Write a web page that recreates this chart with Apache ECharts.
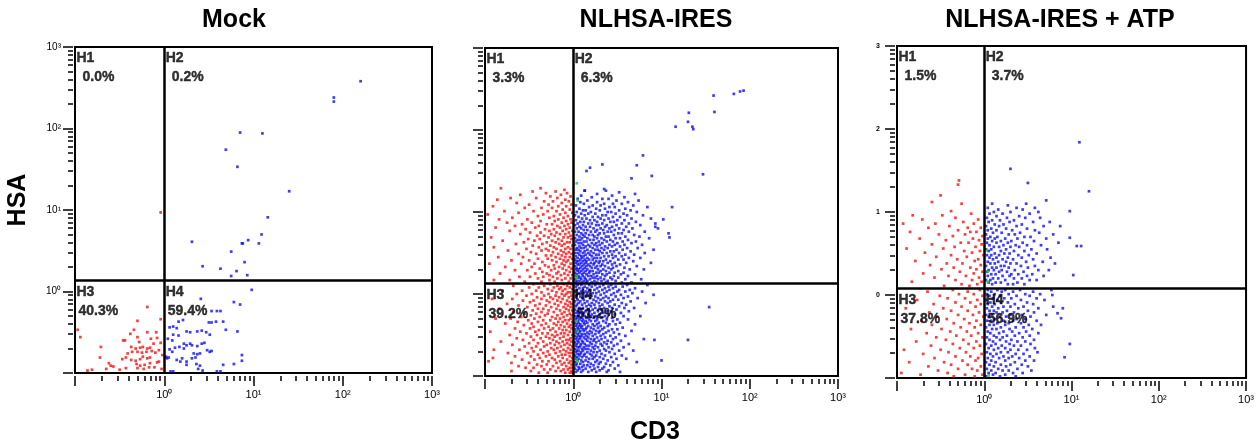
<!DOCTYPE html>
<html>
<head>
<meta charset="utf-8">
<script src="https://cdn.jsdelivr.net/npm/echarts@6/dist/echarts.min.js"></script>
<style>
html,body{margin:0;padding:0;background:#fff;}
#chart{width:1257px;height:445px;}
</style>
</head>
<body>
<div id="chart"></div>
<script>
// ---------------- DATA ----------------
const panelTitles = ['Mock', 'NLHSA-IRES', 'NLHSA-IRES + ATP'];
const xAxisTitle = 'CD3';
const yAxisTitle = 'HSA';
const quadrantNames = ['H1', 'H2', 'H3', 'H4'];
const mockPercents = ['0.0%', '0.2%', '40.3%', '59.4%'];
const iresPercents = ['3.3%', '6.3%', '39.2%', '51.2%'];
const atpPercents = ['1.5%', '3.7%', '37.8%', '56.9%'];
// quadrant gates (data units): CD3 gate, HSA gate
const gateX = [1, 1, 1];
const gateY = [1.365, 1.36, 1.21];
// axis range (data units) and log tick layout
const axisMin = 0.1;
const axisMax = 1000;
const decadeExponents = [-1, 0, 1, 2, 3];
const minorMultipliers = [2, 3, 4, 5, 6, 7, 8, 9];

// Mock: dot readings in log10 units [log10(CD3), log10(HSA)]
const mockRed = [
  [-0.04,0.97],
  [-0.19,-0.19],[-0.30,-0.36],[-0.04,-0.34],[-0.97,-0.47],[-0.94,-0.56],[-0.46,-0.60],[-0.30,-0.56],[-0.15,-0.58],
  [-0.08,-0.57],[-0.04,-0.63],[-0.71,-0.68],[-0.37,-0.68],[-0.32,-0.70],[-0.27,-0.69],[-0.24,-0.68],[-0.19,-0.70],
  [-0.16,-0.69],[-0.41,-0.76],[-0.36,-0.74],[-0.30,-0.74],[-0.25,-0.75],[-0.20,-0.74],[-0.14,-0.73],[-0.10,-0.75],
  [-0.06,-0.72],[-0.72,-0.81],[-0.47,-0.83],[-0.43,-0.81],[-0.37,-0.84],[-0.32,-0.85],[-0.27,-0.83],[-0.19,-0.82],
  [-0.16,-0.81],[-0.31,-0.89],[-0.27,-0.91],[-0.22,-0.90],[-0.16,-0.88],[-0.08,-0.87],[-0.62,-0.88],[-0.60,-0.91],
  [-0.57,-0.92],[-0.30,-0.94],[-0.23,-0.95],[-0.17,-0.93],[-0.65,-0.95],[-0.50,-0.96],[-0.43,-0.94],[-0.86,-0.97],
  [-0.81,-0.96],[-0.38,-0.52],[-0.34,-0.47],[-0.44,-0.60],[-0.19,-0.50],[-0.09,-0.50],[-0.12,-0.64],[-0.02,-0.78],
  [-0.06,-0.86],[-0.11,-0.93],[-0.03,-0.95],[-0.24,-0.80],[-0.28,-0.62]
];
const mockBlue = [
  [2.20,2.58],[1.90,2.38],[1.90,2.33],[0.85,1.95],[1.10,1.94],[0.69,1.74],[0.82,1.53],[1.40,1.23],[1.16,0.91],
  [1.09,0.70],[0.94,0.63],[0.87,0.59],[0.88,0.59],[1.06,0.59],[0.31,0.61],[0.75,0.49],[0.90,0.36],[0.43,0.31],
  [0.63,0.28],[0.81,0.25],[0.75,0.19],[0.93,0.20],
  [0.98,0.02],[0.41,-0.09],[0.78,-0.13],[0.85,-0.16],[0.53,-0.24],[0.59,-0.24],[0.63,-0.24],[0.21,-0.35],[0.16,-0.37],
  [0.50,-0.38],[0.53,-0.38],[0.58,-0.37],[0.66,-0.37],[0.06,-0.44],[0.10,-0.43],[0.14,-0.45],[0.69,-0.47],[0.82,-0.49],
  [0.25,-0.49],[0.29,-0.50],[0.37,-0.49],[0.42,-0.48],[0.47,-0.50],[0.10,-0.53],[0.16,-0.54],[0.51,-0.53],[0.04,-0.58],
  [0.09,-0.60],[0.22,-0.64],[0.25,-0.66],[0.29,-0.64],[0.12,-0.69],[0.17,-0.68],[0.22,-0.70],[0.31,-0.66],[0.37,-0.67],
  [0.42,-0.64],[0.45,-0.63],[0.48,-0.72],[0.51,-0.74],[0.53,-0.73],[0.06,-0.71],[0.09,-0.74],[0.33,-0.76],[0.37,-0.77],
  [0.40,-0.76],[0.02,-0.80],[0.05,-0.81],[0.03,-0.82],[0.87,-0.78],[0.87,-0.85],[0.78,-0.89],[0.66,-0.90],[0.18,-0.86],
  [0.25,-0.90],[0.36,-0.89],[0.40,-0.91],[0.38,-0.95],[0.43,-0.97],[0.59,-0.98],[0.63,-0.98],[0.07,-0.98],[0.10,-0.98],
  [0.14,-0.84],[0.20,-0.82],[0.31,-0.82],[0.35,-0.81],[0.25,-0.86]
];
const mockGreen = [];

// Dense clouds, read row by row: [log10(HSA), log10(CD3) of each dot on that row, ...]
const iresBlueRows = [
  [1.26,0.13,0.37],[1.24,0.52],[1.22,0.27,0.70],[1.20,0.09,0.44],[1.18,0.21,0.58],[1.16,0.05,0.33,0.40],
  [1.14,0.16,0.49,0.74],[1.12,0.08,0.27,0.62],[1.10,0.12,0.35,0.45,0.55],[1.08,0.03,0.22,0.31,0.68],
  [1.06,0.18,0.41,0.47,0.84],[1.04,0.07,0.26,0.36,0.59],[1.02,0.11,0.14,0.30,0.52,0.65],[1.00,0.04,0.20,0.39,0.43,0.72],
  [0.98,0.09,0.17,0.25,0.48,0.57],[0.96,0.02,0.13,0.33,0.37,0.61,0.79],[0.94,0.06,0.22,0.28,0.45,0.53],
  [0.92,0.10,0.15,0.31,0.40,0.66,0.88],[0.90,0.03,0.19,0.24,0.35,0.50,0.58],[0.88,0.08,0.12,0.27,0.42,0.46,0.71],
  [0.86,0.05,0.17,0.21,0.33,0.55,0.63,0.93],[0.84,0.02,0.11,0.26,0.29,0.38,0.49,0.76],[0.82,0.07,0.14,0.19,0.36,0.44,0.60],
  [0.80,0.04,0.09,0.23,0.31,0.41,0.52,0.67,0.96],[0.78,0.12,0.16,0.27,0.34,0.47,0.57],
  [0.76,0.02,0.06,0.20,0.25,0.39,0.43,0.63,0.81],[0.74,0.09,0.14,0.30,0.35,0.51,0.55],
  [0.72,0.04,0.11,0.18,0.22,0.28,0.46,0.69],[0.70,0.07,0.13,0.24,0.37,0.40,0.59,0.75],
  [0.68,0.02,0.10,0.16,0.27,0.32,0.48,0.53,0.86],[0.66,0.05,0.08,0.19,0.23,0.35,0.42,0.62],
  [0.64,0.03,0.12,0.15,0.29,0.38,0.45,0.56,0.71],[0.62,0.06,0.09,0.21,0.26,0.33,0.50,0.66],
  [0.60,0.02,0.11,0.17,0.24,0.30,0.41,0.47,0.58,0.78],[0.58,0.07,0.14,0.19,0.27,0.36,0.44,0.53],
  [0.56,0.04,0.09,0.12,0.22,0.32,0.39,0.61,0.73],[0.54,0.03,0.06,0.16,0.25,0.28,0.35,0.49,0.56,0.91],
  [0.52,0.08,0.13,0.20,0.30,0.42,0.46,0.65],[0.50,0.02,0.05,0.11,0.17,0.23,0.33,0.38,0.52,0.81],
  [0.48,0.07,0.14,0.19,0.26,0.29,0.44,0.59,0.69],[0.46,0.03,0.09,0.12,0.21,0.35,0.40,0.48,0.55],
  [0.44,0.05,0.10,0.16,0.24,0.27,0.31,0.45,0.63,0.76],[0.42,0.02,0.08,0.13,0.18,0.22,0.37,0.51,0.57],
  [0.40,0.04,0.06,0.11,0.15,0.26,0.30,0.34,0.42,0.68],[0.38,0.03,0.09,0.14,0.20,0.24,0.29,0.39,0.47,0.60,0.88],
  [0.36,0.05,0.07,0.12,0.17,0.23,0.33,0.44,0.53],[0.34,0.02,0.10,0.15,0.19,0.27,0.31,0.36,0.49,0.72],
  [0.32,0.04,0.08,0.13,0.21,0.25,0.40,0.45,0.58],[0.30,0.03,0.06,0.11,0.16,0.28,0.34,0.43,0.64,0.80],
  [0.28,0.05,0.09,0.14,0.19,0.22,0.31,0.37,0.51],[0.26,0.02,0.07,0.12,0.18,0.26,0.29,0.41,0.47,0.57],
  [0.24,0.04,0.10,0.15,0.23,0.33,0.38,0.54,0.70],[0.22,0.03,0.06,0.11,0.17,0.20,0.27,0.36,0.46,0.62],
  [0.20,0.05,0.08,0.13,0.22,0.25,0.31,0.42,0.51],[0.18,0.02,0.09,0.14,0.19,0.28,0.35,0.44,0.59,0.77],
  [0.16,0.04,0.07,0.12,0.16,0.24,0.32,0.39,0.48],[0.14,0.03,0.10,0.15,0.21,0.27,0.37,0.55,0.66],
  [0.11,0.05,0.09,0.18,0.25,0.34,0.43,0.61,0.84],[0.09,0.03,0.13,0.21,0.30,0.40,0.48,0.56],
  [0.07,0.07,0.11,0.16,0.27,0.36,0.45,0.70],[0.05,0.04,0.19,0.24,0.33,0.41,0.52,0.64],
  [0.03,0.02,0.09,0.14,0.29,0.38,0.50,0.59,0.78],[0.01,0.06,0.12,0.22,0.26,0.35,0.46,0.67],
  [-0.01,0.04,0.17,0.20,0.31,0.43,0.54,0.91],[-0.03,0.03,0.08,0.14,0.25,0.37,0.48,0.62],
  [-0.05,0.10,0.19,0.28,0.34,0.40,0.57,0.73],[-0.07,0.05,0.12,0.23,0.31,0.45,0.51],
  [-0.09,0.02,0.08,0.16,0.26,0.36,0.42,0.65],[-0.11,0.06,0.13,0.21,0.29,0.39,0.55,0.82],
  [-0.13,0.04,0.10,0.18,0.24,0.33,0.47,0.60],[-0.15,0.03,0.15,0.20,0.30,0.41,0.52],
  [-0.17,0.07,0.11,0.25,0.35,0.44,0.58,0.69],[-0.19,0.02,0.09,0.17,0.22,0.32,0.49],
  [-0.21,0.05,0.14,0.19,0.28,0.38,0.43,0.63],[-0.23,0.03,0.08,0.12,0.24,0.34,0.54],
  [-0.25,0.06,0.10,0.17,0.21,0.30,0.40,0.47],[-0.27,0.02,0.05,0.13,0.19,0.26,0.36,0.57,0.76],
  [-0.29,0.04,0.09,0.15,0.23,0.32,0.44],[-0.31,0.03,0.07,0.11,0.18,0.27,0.38,0.50,0.62],
  [-0.33,0.05,0.10,0.14,0.20,0.25,0.34,0.45],[-0.35,0.02,0.06,0.12,0.16,0.29,0.37,0.53],
  [-0.37,0.04,0.08,0.13,0.22,0.27,0.41,0.48,0.70],[-0.39,0.03,0.07,0.10,0.17,0.24,0.31,0.39],
  [-0.41,0.05,0.09,0.15,0.20,0.28,0.35,0.56],[-0.43,0.02,0.06,0.11,0.14,0.23,0.33,0.44,0.50],
  [-0.45,0.04,0.08,0.12,0.19,0.26,0.30,0.40,0.66],[-0.47,0.03,0.07,0.16,0.21,0.29,0.37,0.46],
  [-0.49,0.05,0.10,0.13,0.18,0.25,0.34,0.52],[-0.51,0.02,0.06,0.09,0.15,0.22,0.31,0.42,0.59],
  [-0.53,0.04,0.08,0.12,0.17,0.27,0.36,0.48],[-0.55,0.03,0.07,0.14,0.20,0.24,0.32,0.45,0.80],
  [-0.57,0.05,0.10,0.16,0.23,0.29,0.39,0.54],[-0.59,0.02,0.06,0.11,0.19,0.26,0.35,0.43],
  [-0.61,0.04,0.09,0.13,0.21,0.31,0.38,0.50,0.63],[-0.63,0.03,0.08,0.15,0.18,0.25,0.33,0.46],
  [-0.65,0.05,0.07,0.12,0.22,0.28,0.40,0.57],[-0.67,0.02,0.10,0.14,0.17,0.24,0.35,0.44],
  [-0.69,0.04,0.06,0.11,0.20,0.30,0.37,0.52,0.68],[-0.71,0.03,0.09,0.16,0.23,0.27,0.41],
  [-0.73,0.05,0.08,0.13,0.19,0.32,0.47],[-0.75,0.02,0.07,0.12,0.21,0.26,0.36,0.55],
  [-0.77,0.04,0.10,0.15,0.24,0.30,0.43],[-0.79,0.03,0.06,0.18,0.22,0.34,0.49,0.60],
  [-0.81,0.05,0.09,0.14,0.27,0.39],[-0.83,0.02,0.11,0.17,0.25,0.31,0.45,0.72],
  [-0.85,0.04,0.08,0.20,0.29,0.37],[-0.87,0.03,0.12,0.16,0.23,0.42,0.51],
  [-0.89,0.06,0.10,0.19,0.28,0.35],[-0.91,0.02,0.07,0.14,0.24,0.33,0.47],
  [-0.93,0.05,0.11,0.21,0.30,0.40],[-0.95,0.03,0.09,0.17,0.26,0.38,0.53]
];
const iresBlueOutliers = [
  [1.59,2.42],[1.82,2.44],[1.89,2.47],[1.93,2.48],[1.60,2.22],[1.31,2.21],[1.30,2.10],[1.16,2.04],[1.35,2.04],
  [1.36,2.01],[1.47,1.46],[0.79,1.69],[0.72,1.57],[0.33,1.58],[0.19,1.54],[0.15,1.50],[0.89,1.44],[0.66,1.41],
  [0.13,1.26],[0.35,1.28],[1.12,1.06],[1.02,0.91],[1.08,0.74],[1.09,0.69],[0.93,0.82],[1.54,-0.16],[1.30,-0.56],
  [1.00,-0.81],[0.92,-0.56]
];
const iresRedRows = [
  [1.29,-0.82,-0.37],[1.27,-0.10],[1.25,-0.46,-0.20],[1.23,-0.31,-0.07],[1.21,-0.60,-0.14],[1.19,-0.26,-0.03],
  [1.17,-0.71,-0.42,-0.18],[1.15,-0.86,-0.09],[1.13,-0.33,-0.23,-0.05],[1.11,-0.64,-0.13],[1.09,-0.50,-0.28,-0.02],
  [1.07,-0.91,-0.17,-0.08],[1.05,-0.55,-0.36,-0.24],[1.03,-0.12,-0.04],[1.01,-0.78,-0.45,-0.29,-0.19],
  [0.99,-0.62,-0.09,-0.01],[0.97,-0.97,-0.34,-0.15],[0.95,-0.40,-0.22,-0.06],[0.93,-0.69,-0.27,-0.11],
  [0.91,-0.84,-0.52,-0.17,-0.03],[0.89,-0.37,-0.21,-0.08],[0.87,-0.75,-0.47,-0.13,-0.02],[0.85,-0.58,-0.30,-0.24,-0.06],
  [0.83,-0.66,-0.39,-0.18,-0.10],[0.81,-0.88,-0.43,-0.15,-0.04],[0.79,-0.54,-0.32,-0.22,-0.08],[0.77,-0.72,-0.27,-0.12,-0.01],
  [0.75,-0.49,-0.37,-0.19,-0.05],[0.73,-0.60,-0.25,-0.15,-0.09],[0.71,-0.41,-0.33,-0.21,-0.03],[0.69,-0.93,-0.28,-0.11,-0.06],
  [0.67,-0.51,-0.38,-0.17,-0.02],[0.65,-0.80,-0.44,-0.24,-0.13],[0.63,-0.56,-0.30,-0.20,-0.07,-0.04],[0.61,-0.65,-0.35,-0.16,-0.10],
  [0.59,-0.46,-0.26,-0.13,-0.01],[0.57,-0.90,-0.39,-0.22,-0.06],[0.55,-0.53,-0.31,-0.19,-0.09,-0.03],[0.53,-0.74,-0.36,-0.28,-0.14],
  [0.51,-0.48,-0.23,-0.11,-0.05],[0.49,-0.62,-0.42,-0.17,-0.08,-0.02],[0.47,-0.31,-0.25,-0.13],[0.45,-0.85,-0.57,-0.20,-0.09,-0.04],
  [0.43,-0.40,-0.29,-0.15,-0.01],[0.41,-0.70,-0.50,-0.24,-0.11,-0.06],[0.39,-0.35,-0.19,-0.08],[0.37,-0.95,-0.59,-0.44,-0.13,-0.03],
  [0.35,-0.32,-0.22,-0.10],[0.33,-0.77,-0.47,-0.28,-0.16,-0.05],[0.31,-0.38,-0.21,-0.12,-0.02],[0.29,-0.66,-0.52,-0.25,-0.08],
  [0.27,-0.35,-0.17,-0.04],[0.25,-0.83,-0.43,-0.30,-0.19,-0.10],[0.23,-0.27,-0.14,-0.06,-0.01],[0.21,-0.61,-0.49,-0.34,-0.23],
  [0.19,-0.40,-0.18,-0.09,-0.03],[0.17,-0.90,-0.72,-0.27,-0.13],[0.15,-0.55,-0.36,-0.21,-0.05],
  [0.12,-0.45,-0.26,-0.11,-0.02],[0.10,-0.68,-0.33,-0.18,-0.07],[0.08,-0.50,-0.39,-0.22,-0.14,-0.04],[0.06,-0.29,-0.16,-0.09,-0.01],
  [0.04,-0.80,-0.58,-0.42,-0.24,-0.12],[0.02,-0.36,-0.19,-0.06,-0.03],[0.00,-0.64,-0.47,-0.28,-0.13,-0.08],
  [-0.02,-0.53,-0.33,-0.20,-0.10,-0.02],[-0.04,-0.41,-0.26,-0.16,-0.05],[-0.06,-0.92,-0.69,-0.36,-0.23,-0.12,-0.01],
  [-0.08,-0.57,-0.45,-0.30,-0.18,-0.07],[-0.10,-0.49,-0.27,-0.14,-0.04],[-0.12,-0.75,-0.38,-0.21,-0.09,-0.02],
  [-0.14,-0.62,-0.43,-0.31,-0.17,-0.06],[-0.16,-0.52,-0.25,-0.11,-0.03],[-0.18,-0.84,-0.40,-0.34,-0.19,-0.08],
  [-0.20,-0.46,-0.28,-0.15,-0.05,-0.01],[-0.22,-0.68,-0.36,-0.22,-0.10],[-0.24,-0.55,-0.42,-0.29,-0.13,-0.04],
  [-0.26,-0.48,-0.32,-0.18,-0.07,-0.02],[-0.28,-0.59,-0.38,-0.24,-0.11],[-0.30,-0.88,-0.71,-0.44,-0.20,-0.15,-0.03],
  [-0.32,-0.51,-0.34,-0.26,-0.09,-0.05],[-0.34,-0.63,-0.40,-0.17,-0.12,-0.01],[-0.36,-0.77,-0.47,-0.31,-0.22,-0.07],
  [-0.38,-0.56,-0.36,-0.19,-0.14,-0.03],[-0.40,-0.45,-0.28,-0.10,-0.05],[-0.42,-0.66,-0.49,-0.33,-0.23,-0.16,-0.02],
  [-0.44,-0.39,-0.26,-0.12,-0.08],[-0.46,-0.94,-0.60,-0.43,-0.20,-0.04],[-0.48,-0.53,-0.35,-0.29,-0.14,-0.10],
  [-0.50,-0.72,-0.41,-0.24,-0.18,-0.06,-0.01],[-0.52,-0.48,-0.31,-0.21,-0.11],[-0.54,-0.64,-0.37,-0.27,-0.15,-0.03],
  [-0.56,-0.57,-0.45,-0.23,-0.08,-0.05],[-0.58,-0.82,-0.34,-0.19,-0.12,-0.02],[-0.60,-0.50,-0.40,-0.26,-0.16,-0.07],
  [-0.62,-0.69,-0.30,-0.21,-0.10,-0.04],[-0.64,-0.55,-0.42,-0.33,-0.14,-0.01],[-0.66,-0.47,-0.25,-0.18,-0.06],
  [-0.68,-0.90,-0.61,-0.37,-0.22,-0.11,-0.03],[-0.70,-0.45,-0.29,-0.15,-0.08],[-0.72,-0.74,-0.52,-0.34,-0.20,-0.05,-0.02],
  [-0.74,-0.40,-0.27,-0.13,-0.09],[-0.76,-0.66,-0.48,-0.31,-0.17,-0.04],[-0.78,-0.91,-0.38,-0.24,-0.12,-0.01],
  [-0.80,-0.58,-0.44,-0.21,-0.07],[-0.82,-0.96,-0.35,-0.28,-0.15,-0.03],[-0.84,-0.70,-0.50,-0.19,-0.10,-0.05],
  [-0.86,-0.41,-0.30,-0.13,-0.02],[-0.88,-0.62,-0.36,-0.23,-0.08],[-0.90,-0.54,-0.45,-0.17,-0.04,-0.01],
  [-0.92,-0.33,-0.26,-0.11,-0.06],[-0.94,-0.70,-0.48,-0.20,-0.14,-0.02],[-0.96,-0.39,-0.29,-0.09,-0.04,-0.01]
];
const iresGreen = [[0.04,1.35],[0.05,1.14],[0.04,0.22],[0.04,0.19],[0.04,-0.33],[0.05,-0.46],[0.04,-0.80],[0.05,-0.82]];

const atpBlueRows = [
  [1.10,0.09,0.48],[1.08,0.27],[1.05,0.04,0.37,0.58],[1.03,0.16,0.44],[1.00,0.11,0.30,0.62],[0.98,0.06,0.21,0.52],
  [0.95,0.14,0.40],[0.93,0.03,0.26,0.47,0.64],[0.90,0.09,0.18,0.34],[0.88,0.05,0.29,0.56,0.75],[0.85,0.12,0.22,0.43],
  [0.83,0.02,0.17,0.37,0.68,0.87],[0.80,0.08,0.25,0.49],[0.78,0.04,0.14,0.32,0.58],[0.75,0.10,0.20,0.41,0.63],
  [0.73,0.02,0.28,0.35,0.79],[0.70,0.07,0.15,0.46,0.53],[0.68,0.04,0.12,0.24,0.38,0.71],[0.65,0.09,0.19,0.31,0.57],
  [0.63,0.03,0.14,0.27,0.44,0.85],[0.60,0.06,0.22,0.36,0.49,0.65],[0.58,0.11,0.17,0.30,0.40],[0.55,0.02,0.08,0.25,0.54,0.72],
  [0.53,0.05,0.19,0.34,0.46],[0.50,0.12,0.23,0.29,0.60],[0.48,0.03,0.08,0.17,0.39,0.51],[0.45,0.06,0.14,0.27,0.43,0.76],
  [0.43,0.10,0.21,0.33,0.56],[0.40,0.04,0.16,0.25,0.48,0.67],[0.38,0.07,0.12,0.30,0.37,0.81],[0.35,0.02,0.19,0.23,0.42,0.58],
  [0.33,0.09,0.14,0.28,0.50],[0.30,0.05,0.11,0.20,0.35,0.62,0.74],[0.28,0.03,0.17,0.26,0.45],[0.25,0.08,0.13,0.31,0.39,0.55],
  [0.23,0.04,0.21,0.29,0.49,0.68],[0.20,0.10,0.16,0.34,0.43],[0.18,0.02,0.07,0.24,0.52,0.60],[0.15,0.05,0.13,0.19,0.38],
  [0.13,0.09,0.27,0.33,0.46],
  [0.06,0.04,0.15,0.24,0.41,0.77],[0.04,0.08,0.20,0.33,0.56],[0.01,0.03,0.12,0.28,0.47,0.64],[-0.01,0.06,0.18,0.37,0.52],
  [-0.04,0.10,0.23,0.31,0.60],[-0.06,0.02,0.15,0.42,0.69],[-0.09,0.07,0.19,0.27,0.49],[-0.11,0.04,0.12,0.35,0.56],
  [-0.14,0.09,0.22,0.30,0.45,0.79],[-0.16,0.03,0.16,0.39,0.62],[-0.19,0.06,0.11,0.26,0.50],[-0.21,0.14,0.21,0.34,0.57],
  [-0.24,0.02,0.09,0.30,0.43,0.71],[-0.26,0.05,0.18,0.25,0.53],[-0.29,0.12,0.37,0.47],[-0.31,0.03,0.08,0.22,0.33,0.60],
  [-0.34,0.15,0.28,0.42],[-0.36,0.06,0.11,0.24,0.51,0.65],[-0.39,0.02,0.19,0.36,0.45],[-0.41,0.09,0.14,0.29,0.55],
  [-0.44,0.04,0.22,0.32,0.48],[-0.46,0.07,0.17,0.40,0.62],[-0.49,0.11,0.26,0.35,0.52],[-0.51,0.03,0.14,0.21,0.44],
  [-0.54,0.06,0.18,0.31,0.57],[-0.56,0.10,0.25,0.38,0.47],[-0.59,0.02,0.13,0.29,0.53],[-0.61,0.08,0.20,0.34,0.42],
  [-0.64,0.05,0.16,0.24,0.58],[-0.66,0.11,0.30,0.39,0.49],[-0.69,0.03,0.19,0.27,0.61],[-0.71,0.07,0.14,0.36,0.45],
  [-0.74,0.10,0.22,0.32,0.52],[-0.76,0.04,0.17,0.28,0.40],[-0.79,0.08,0.24,0.47,0.57],[-0.81,0.02,0.13,0.35],
  [-0.84,0.06,0.19,0.30,0.43],[-0.86,0.11,0.25,0.50],[-0.89,0.03,0.16,0.38],[-0.91,0.08,0.21,0.28,0.54],
  [-0.94,0.05,0.13,0.33,0.44],[-0.96,0.10,0.24],[-0.98,0.02,0.18,0.36]
];
const atpBlueOutliers = [
  [1.09,1.84],[1.20,1.25],[0.30,1.52],[0.50,1.35],[0.71,1.14],[0.98,1.01],[0.98,0.69],[1.06,0.59],[1.11,0.59],
  [1.02,0.24],[0.98,-0.59],[0.92,-0.75],[0.90,-0.16],[0.88,-0.28],[0.84,-0.22],[0.78,0.00]
];
const atpRedRows = [
  [1.38,-0.29],[1.33,-0.30],[1.20,-0.50],[1.12,-0.60],[1.10,-0.26],[1.01,-0.38],
  [0.98,-0.15],[0.96,-0.82,-0.48],[0.93,-0.33],[0.91,-0.71,-0.07],[0.88,-0.24],[0.86,-0.93,-0.56,-0.12],[0.83,-0.40],
  [0.81,-0.64,-0.19,-0.04],[0.78,-0.30],[0.76,-0.85,-0.16,-0.09],[0.73,-0.52,-0.22],[0.71,-0.36,-0.02],[0.68,-0.74,-0.13],
  [0.66,-0.44,-0.06],[0.63,-0.27,-0.18],[0.61,-0.60,-0.03],[0.58,-0.34,-0.10],[0.56,-0.89,-0.47],[0.53,-0.23,-0.05],
  [0.51,-0.68,-0.14],[0.48,-0.38,-0.01],[0.46,-0.55,-0.20],[0.43,-0.31,-0.07],[0.41,-0.79,-0.11],[0.38,-0.43,-0.25],
  [0.36,-0.62,-0.04],[0.33,-0.35,-0.16],[0.31,-0.49,-0.09],[0.28,-0.28,-0.02],[0.26,-0.70,-0.12],[0.23,-0.41,-0.21],
  [0.21,-0.57,-0.06],[0.18,-0.33,-0.14],[0.16,-0.83,-0.03],[0.13,-0.26,-0.08],[0.11,-0.46,-0.17],
  [0.06,-0.36,-0.05],[0.04,-0.65,-0.19],[0.01,-0.29,-0.12],[-0.01,-0.51,-0.02],[-0.04,-0.42,-0.22],[-0.06,-0.77,-0.08],
  [-0.09,-0.33,-0.16],[-0.11,-0.58,-0.04],[-0.14,-0.26,-0.10],[-0.16,-0.90,-0.47],[-0.19,-0.38,-0.19],[-0.21,-0.63,-0.06],
  [-0.24,-0.30,-0.13],[-0.26,-0.54,-0.01],[-0.29,-0.43,-0.23],[-0.31,-0.72,-0.09],[-0.34,-0.35,-0.17],[-0.36,-0.60,-0.04],
  [-0.39,-0.27,-0.11],[-0.41,-0.84,-0.49],[-0.44,-0.39,-0.20],[-0.46,-0.66,-0.07],[-0.49,-0.32,-0.15],[-0.51,-0.55,-0.02],
  [-0.54,-0.44,-0.24],[-0.56,-0.78,-0.09],[-0.59,-0.36,-0.18],[-0.61,-0.61,-0.05],[-0.64,-0.28,-0.12],[-0.66,-0.92,-0.50],
  [-0.69,-0.41,-0.21],[-0.71,-0.70,-0.03],[-0.74,-0.33,-0.16],[-0.76,-0.57,-0.07],[-0.79,-0.25,-0.10],[-0.81,-0.86,-0.46],
  [-0.84,-0.38,-0.19],[-0.86,-0.64,-0.04],[-0.89,-0.30,-0.14],[-0.91,-0.53,-0.08],[-0.94,-0.95,-0.42],
  [-0.96,-0.73,-0.22,-0.02],[-0.98,-0.35,-0.11]
];
const atpGreen = [[0.03,0.54],[0.04,0.28],[0.04,0.16],[0.05,-0.97]];

// ---------------- BUILD ----------------
const rowsToPairs = rows => rows.flatMap(r => r.slice(1).map(x => [x, r[0]]));
const toValues = pairs => pairs.map(p => [Math.pow(10, p[0]), Math.pow(10, p[1])]);

const panels = [
  { red: mockRed, blue: mockBlue, green: mockGreen, pct: mockPercents },
  { red: rowsToPairs(iresRedRows), blue: rowsToPairs(iresBlueRows).concat(iresBlueOutliers), green: iresGreen, pct: iresPercents },
  { red: rowsToPairs(atpRedRows), blue: rowsToPairs(atpBlueRows).concat(atpBlueOutliers), green: atpGreen, pct: atpPercents }
];

const grids = [
  { left: 75, top: 47, width: 357, height: 326 },
  { left: 485, top: 48, width: 353, height: 328 },
  { left: 897, top: 46, width: 358, height: 332 }
];
const titleCenters = [234, 656, 1060];

const SUP = { '-1': '\u207B\u00B9', '0': '\u2070', '1': '\u00B9', '2': '\u00B2', '3': '\u00B3' };
const expOf = v => Math.round(Math.log10(v));
const minorValues = decadeExponents.slice(0, -1).flatMap(e => minorMultipliers.map(m => m * Math.pow(10, e)));
const FONT = '"Liberation Sans", Arial, sans-serif';

const xAxes = [], yAxes = [], series = [], graphics = [];
const yLabelFormatters = [
  v => { const e = expOf(v); return e < 0 ? '' : '10' + SUP[e]; },
  v => '',
  v => { const e = expOf(v); return e < 0 ? '' : String(e); }
];

grids.forEach((g, i) => {
  const base = { type: 'log', logBase: 10, min: axisMin, max: axisMax, gridIndex: i, splitLine: { show: false }, axisLine: { show: false } };
  xAxes.push(Object.assign({}, base, {
    position: 'bottom', offset: 3,
    axisTick: { show: true, length: 10, lineStyle: { color: '#000', width: 1.5 } },
    axisLabel: { show: true, formatter: v => { const e = expOf(v); return e < 0 ? '' : '10' + SUP[e]; }, fontSize: 11, fontFamily: FONT, color: '#000', margin: 13, showMinLabel: true, showMaxLabel: true }
  }));
  xAxes.push(Object.assign({}, base, {
    position: 'bottom', offset: 3,
    axisTick: { show: true, length: 5, customValues: minorValues, lineStyle: { color: '#000', width: 1.5 } },
    axisLabel: { show: false }
  }));
  yAxes.push(Object.assign({}, base, {
    position: 'left', offset: 2,
    axisTick: { show: true, length: 10, lineStyle: { color: '#000', width: 1.5 } },
    axisLabel: {
      show: i !== 1, formatter: yLabelFormatters[i],
      fontSize: i === 2 ? 7 : 10, fontWeight: i === 2 ? 'bold' : 'normal',
      fontFamily: FONT, color: '#000', margin: i === 2 ? 15 : 12,
      padding: i === 2 ? [0, 0, 5, 0] : 0, showMinLabel: true, showMaxLabel: true
    }
  }));
  yAxes.push(Object.assign({}, base, {
    position: 'left', offset: 2,
    axisTick: { show: true, length: 5, customValues: minorValues, lineStyle: { color: '#000', width: 1.5 } },
    axisLabel: { show: false }
  }));

  const p = panels[i];
  const common = { type: 'scatter', xAxisIndex: 2 * i, yAxisIndex: 2 * i, symbol: 'rect', symbolSize: 2.7, silent: true, animation: false };
  series.push(Object.assign({}, common, {
    name: 'red' + i, data: toValues(p.red), itemStyle: { color: '#ff0d0d' },
    markLine: {
      silent: true, animation: false, symbol: ['none', 'none'], label: { show: false },
      lineStyle: { color: '#000', width: 2.5, type: 'solid' },
      data: [{ xAxis: gateX[i] }, { yAxis: gateY[i] }]
    }
  }));
  series.push(Object.assign({}, common, { name: 'blue' + i, data: toValues(p.blue), itemStyle: { color: '#0d0dff' } }));
  series.push(Object.assign({}, common, { name: 'green' + i, data: toValues(p.green), itemStyle: { color: '#20d020' } }));

  const anchors = [[axisMin, axisMax], [gateX[i], axisMax], [axisMin, gateY[i]], [gateX[i], gateY[i]]];
  const txt = { fontSize: 14, fontWeight: 'bold', fontFamily: FONT, color: '#000', lineHeight: 19, textBorderWidth: 0.4, textBorderColor: '#000' };
  series.push({
    type: 'scatter', xAxisIndex: 2 * i, yAxisIndex: 2 * i, silent: true, animation: false,
    symbolSize: 1, itemStyle: { color: 'rgba(0,0,0,0)' }, z: 5,
    data: anchors.map((a, q) => ({
      value: a,
      label: {
        show: true, position: [2, q < 2 ? 2 : 3], color: '#000', fontWeight: 'bold',
        formatter: '{h|' + quadrantNames[q] + '}\n{' + (q < 2 ? 'p' : 'r') + '|' + p.pct[q] + '}',
        rich: {
          h: Object.assign({}, txt),
          p: Object.assign({ padding: [0, 0, 0, 6] }, txt),
          r: Object.assign({ padding: [0, 0, 0, 2] }, txt)
        }
      }
    }))
  });

  graphics.push({
    type: 'text', x: titleCenters[i], y: 20,
    style: { text: panelTitles[i], font: 'bold 25px ' + FONT, fill: '#000', align: 'center', verticalAlign: 'middle' }
  });
});

graphics.push({
  type: 'text', x: 18, y: 200, rotation: Math.PI / 2,
  style: { text: yAxisTitle, font: 'bold 25px ' + FONT, fill: '#000', align: 'center', verticalAlign: 'middle' }
});
graphics.push({
  type: 'text', x: 655, y: 432,
  style: { text: xAxisTitle, font: 'bold 25px ' + FONT, fill: '#000', align: 'center', verticalAlign: 'middle' }
});

const chart = echarts.init(document.getElementById('chart'), null, { renderer: 'canvas' });
chart.setOption({
  backgroundColor: '#ffffff',
  animation: false,
  grid: grids.map(g => Object.assign({ show: true, borderColor: '#000', borderWidth: 2, backgroundColor: '#fff', containLabel: false }, g)),
  xAxis: xAxes,
  yAxis: yAxes,
  series: series,
  graphic: graphics
});
</script>
</body>
</html>
